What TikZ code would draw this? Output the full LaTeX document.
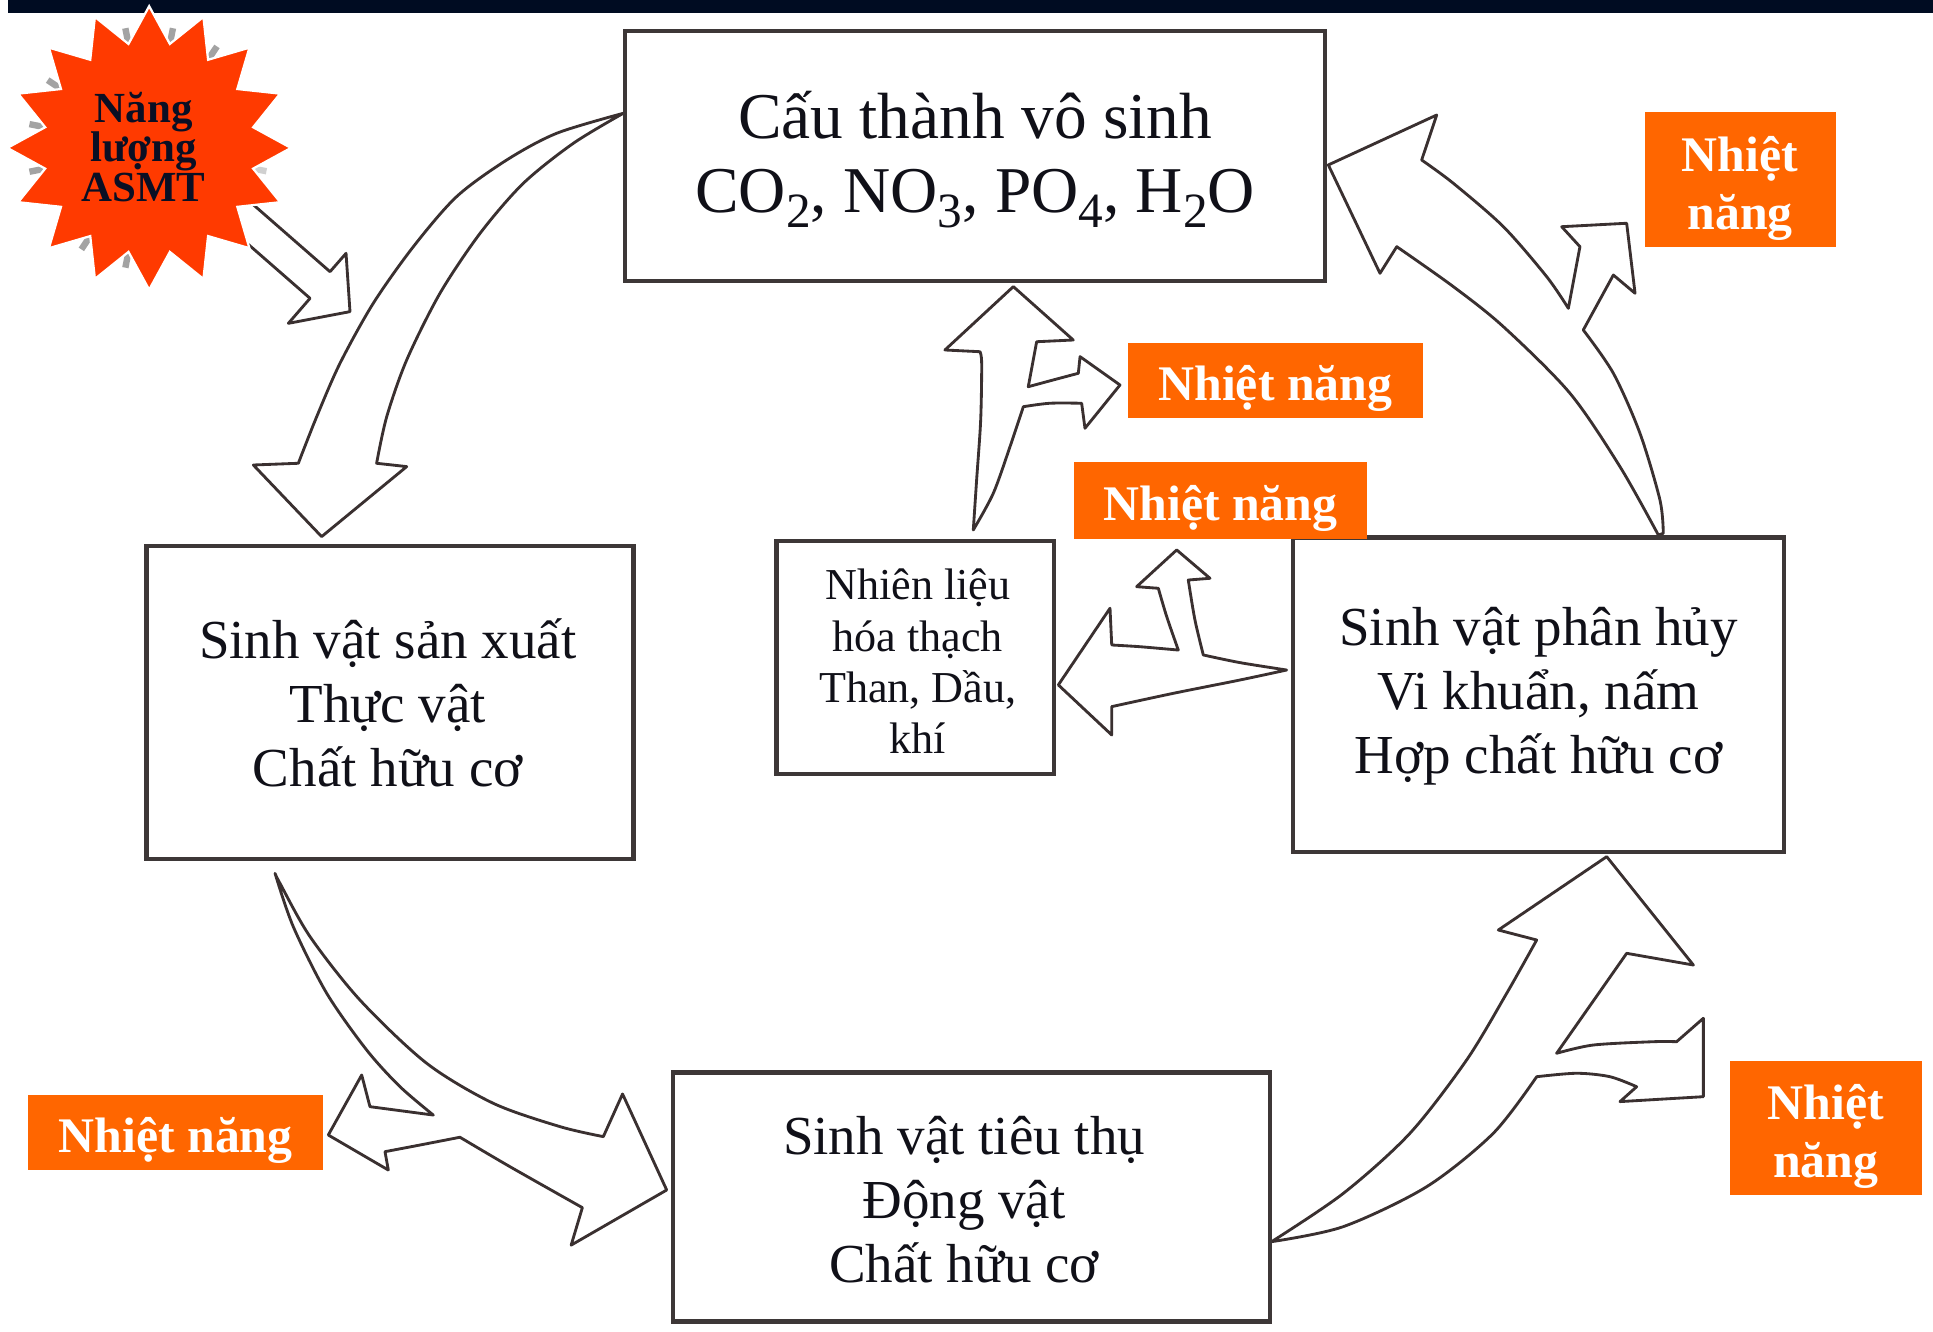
\documentclass[tikz,border=0pt]{standalone}
\usepackage{fontspec}
\setmainfont{Liberation Serif}
\definecolor{navybar}{HTML}{000C22}
\definecolor{starc}{HTML}{FF3A00}
\definecolor{startext}{HTML}{0A0F24}
\definecolor{heatc}{HTML}{FF6600}
\definecolor{inkc}{HTML}{3A3030}
\definecolor{boxc}{HTML}{3D3737}
\definecolor{textc}{HTML}{101018}
% lowered, slightly smaller digits for the chemical formulas
\newcommand\chemsub[1]{\raisebox{-0.22em}{\fontsize{20pt}{20pt}\selectfont#1}}
\begin{document}
\begin{tikzpicture}[x=0.5pt,y=-0.5pt,
  ink/.style={draw=inkc, line width=1.15pt, fill=white, line join=round},
  cyclebox/.style={draw=boxc, line width=1.8pt, fill=white, inner sep=0pt},
  cycletext/.style={align=center, text=textc, inner sep=0pt},
  heatbox/.style={fill=heatc, inner sep=0pt},
  heattext/.style={text=white, inner sep=0pt, align=center,
    font=\bfseries\fontsize{20.2pt}{23.5pt}\selectfont},
  ray/.style={draw=black!60, line width=2.6pt, opacity=0.6},
]
\useasboundingbox (0,0) rectangle (1568,1080);
\fill[white] (0,0) rectangle (1568,1080);
\fill[navybar] (6.5,0) rectangle (1568,10.6);

% ---------- sun: rays peeking out, energy arrow, star ----------
\foreach \a in {101.25,123.75,168.75,191.25,213.75,258.75,281.25,303.75}
  \draw[ray, shift={(121,120)}] (\a:80) -- (\a:99);
\draw[ray, opacity=0.3, shift={(121,120)}] (11.25:80) -- (11.25:97);

\path[ink] (169.8,134.9) -- (267.7,220.4) -- (280.7,205.5) -- (283.9,252.8)
  -- (233.9,262.3) -- (251.5,242) -- (161.1,163) -- cycle;

\filldraw[fill=starc, draw=white, line width=0.9pt, shift={(121,120)}]
  (0:115) \foreach \k in {0,...,15} { -- ({\k*22.5+11.25}:86) -- ({(\k+1)*22.5}:115) } -- cycle;
\node[text=startext, align=center, inner sep=0pt,
  font=\bfseries\fontsize{17.4pt}{16pt}\selectfont] (sun) at (116.5,119)
  {Năng\\lượng\\ASMT};

% ---------- block arrows of the cycle ----------
% abiotic -> producers
\path[ink] (505.6,91.9) -- plot[smooth] coordinates {(505.6,91.9) (451.6,108.1) (411,129.8)
  (370.4,159.5) (335.3,200.1) (302.8,246) (275.8,294.7) (256.9,338) (242,375.8)}
  -- (205.5,377.2) -- (260.9,435.3) -- (329.9,378.5) -- (305.5,375.8)
  -- plot[smooth] coordinates {(305.5,375.8) (313.7,338) (329.9,292) (356.9,237.9)
  (389.4,189.3) (424.5,148.7) (465,116.3) (505.6,91.9)} -- cycle;

% producers -> consumers, with heat branch
\path[ink] (223.1,708.4) -- plot[smooth] coordinates {(223.1,708.4) (237.9,751.7) (265,805.7)
  (297.4,851.7) (324.5,881.5) (351.5,904.5)}
  -- (300.1,897.7) -- (293.4,872) -- (266.3,920.7) -- (315,949.1) -- (312.3,934.2)
  -- plot[smooth] coordinates {(312.3,934.2) (340.7,928.8) (373.1,922.5)}
  -- plot[smooth] coordinates {(373.1,922.5) (413.7,946.4) (472.4,979.6)}
  -- (463.3,1010) -- (540.8,965.3) -- (505,887.4) -- (489.4,922)
  -- plot[smooth] coordinates {(489.4,922) (454.3,913.9) (400.2,895) (346.1,862.5)
  (292,811.2) (251.5,759.8) (227.1,716.5) (223.1,708.4)} -- cycle;

% consumers -> decomposers, with heat branch
\path[ink] (1031.5,1007.2) -- plot[smooth] coordinates {(1031.5,1007.2) (1089.7,968)
  (1143.7,919.3) (1189.7,859.8) (1222.2,805.7) (1246.5,762.5)}
  -- (1215.4,754.4) -- (1303.3,694.9) -- (1373.6,782.8) -- (1319.5,773.3) -- (1262.7,854.4)
  -- plot[smooth] coordinates {(1262.7,854.4) (1292.4,847.7) (1341.1,845) (1360,845)}
  -- (1381.7,826) -- (1381.7,889.6) -- (1314.1,893.6) -- (1327.6,881.5)
  -- plot[smooth] coordinates {(1327.6,881.5) (1306,873.4) (1279,870.6) (1246.5,873.4)}
  -- plot[smooth] coordinates {(1246.5,873.4) (1211.3,919.3) (1157.3,962.6) (1089.7,995)
  (1031.5,1007.2)} -- cycle;

% decomposers -> abiotic, with heat branch
\path[ink] (1345.2,434) -- plot[smooth] coordinates {(1345.2,434) (1314.1,378.6) (1273.5,319)
  (1219.5,265) (1178.9,232.5) (1133,200.1)}
  -- (1119.4,221.7) -- (1077.5,133.8) -- (1165.4,93.3) -- (1153.2,129.8)
  -- plot[smooth] coordinates {(1153.2,129.8) (1178.9,148.7) (1219.5,183.9) (1254.6,224.4)
  (1272.2,250.1)}
  -- (1281.6,200.1) -- (1266.8,183.9) -- (1319.5,181.1) -- (1326.3,237.9) -- (1308.7,223.1)
  -- (1284.3,267.7)
  -- plot[smooth] coordinates {(1284.3,267.7) (1308.7,302.8) (1330.3,351.5) (1346.5,405.6)
  (1349.2,432.6)} -- cycle;

% fossil fuels -> abiotic, with heat branch
\path[ink] (789.5,429.9) -- plot[smooth] coordinates {(789.5,429.9) (792.2,389.4) (795.5,340.7)
  (796.3,294.7) (794.9,285.3)}
  -- (766.5,283.9) -- (822,232.5) -- (870.6,275.8) -- (840.9,277.2) -- (834.1,313.7)
  -- plot[smooth] coordinates {(834.1,313.7) (854.4,308.2) (874.7,302.8)}
  -- (876.1,289.3) -- (908.5,312.3) -- (880.1,347.4) -- (877.4,327.1)
  -- plot[smooth] coordinates {(877.4,327.1) (851.7,327.1) (830.1,329.9)}
  -- plot[smooth] coordinates {(830.1,329.9) (819.3,362.3) (805.7,400.2) (789.5,429.9)} -- cycle;

% decomposers -> fossil fuels, with heat branch
\path[ink] (1043.7,543.5) -- plot[smooth] coordinates {(1043.7,543.5) (1005.8,537.5) (976.1,531.3)}
  -- plot[smooth] coordinates {(976.1,531.3) (969.3,502.9) (963.9,470.5)}
  -- (981.5,469.1) -- (954.5,446.1) -- (922,475.9) -- (939.6,477.2)
  -- plot[smooth] coordinates {(939.6,477.2) (946.4,500.2) (955.8,527.3)}
  -- plot[smooth] coordinates {(955.8,527.3) (924.7,524.6) (901.8,523.2)}
  -- (900.4,493.4) -- (858.5,555.6) -- (901.8,596.2) -- (901.8,573.2)
  -- plot[smooth] coordinates {(901.8,573.2) (951.8,562.4) (1005.8,551.6) (1043.7,543.5)} -- cycle;

% ---------- compartments ----------
\node[cyclebox, minimum width=284pt, minimum height=101.5pt] (abiotic) at (791,126.5) {};
\node[cycletext, font=\fontsize{26.5pt}{30pt}\selectfont] (abioticT) at ([yshift=-1.5pt]abiotic.center)
  {Cấu thành vô sinh\\CO\chemsub{2}, NO\chemsub{3}, PO\chemsub{4}, H\chemsub{2}O};
\node[cyclebox, minimum width=197.5pt, minimum height=127pt] (producers) at (316.5,570) {};
\node[cycletext, font=\fontsize{22.3pt}{26pt}\selectfont] (producersT) at ([xshift=-1pt]producers.center)
  {Sinh vật sản xuất\\Thực vật\\Chất hữu cơ};
\node[cyclebox, minimum width=112.5pt, minimum height=94.5pt] (fossil) at (742.5,533.5) {};
\node[cycletext, font=\fontsize{17.9pt}{20.8pt}\selectfont] (fossilT) at ([xshift=1pt,yshift=-1.5pt]fossil.center)
  {Nhiên liệu\\hóa thạch\\Than, Dầu,\\khí};
\node[cyclebox, minimum width=199pt, minimum height=127.5pt] (decomposers) at (1248,563.5) {};
\node[cycletext, font=\fontsize{22.3pt}{26pt}\selectfont] (decomposersT) at ([yshift=-0.5pt]decomposers.center)
  {Sinh vật phân hủy\\Vi khuẩn, nấm\\Hợp chất hữu cơ};
\node[cyclebox, minimum width=242pt, minimum height=101pt] (consumers) at (788,971) {};
\node[cycletext, font=\fontsize{22.3pt}{26pt}\selectfont] (consumersT) at ([xshift=-3pt,yshift=-1pt]consumers.center)
  {Sinh vật tiêu thụ\\Động vật\\Chất hữu cơ};

% ---------- heat released ----------
\node[heatbox, minimum width=77.5pt, minimum height=54.5pt] (heatA) at (1411.5,145.5) {};
\node[heattext] at ([yshift=-3.5pt]heatA.center) {Nhiệt\\năng};
\node[heatbox, minimum width=119.5pt, minimum height=30.5pt] (heatB) at (1034.5,308.5) {};
\node[heattext] at ([yshift=-3.3pt]heatB.center) {Nhiệt năng};
\node[heatbox, minimum width=119pt, minimum height=31pt] (heatC) at (990,406) {};
\node[heattext] at ([yshift=-3.3pt]heatC.center) {Nhiệt năng};
\node[heatbox, minimum width=119.5pt, minimum height=30.5pt] (heatD) at (142.5,918.5) {};
\node[heattext] at ([yshift=-3.3pt]heatD.center) {Nhiệt năng};
\node[heatbox, minimum width=78pt, minimum height=54pt] (heatE) at (1481,915) {};
\node[heattext] at ([yshift=-3.5pt]heatE.center) {Nhiệt\\năng};
\end{tikzpicture}
\end{document}
